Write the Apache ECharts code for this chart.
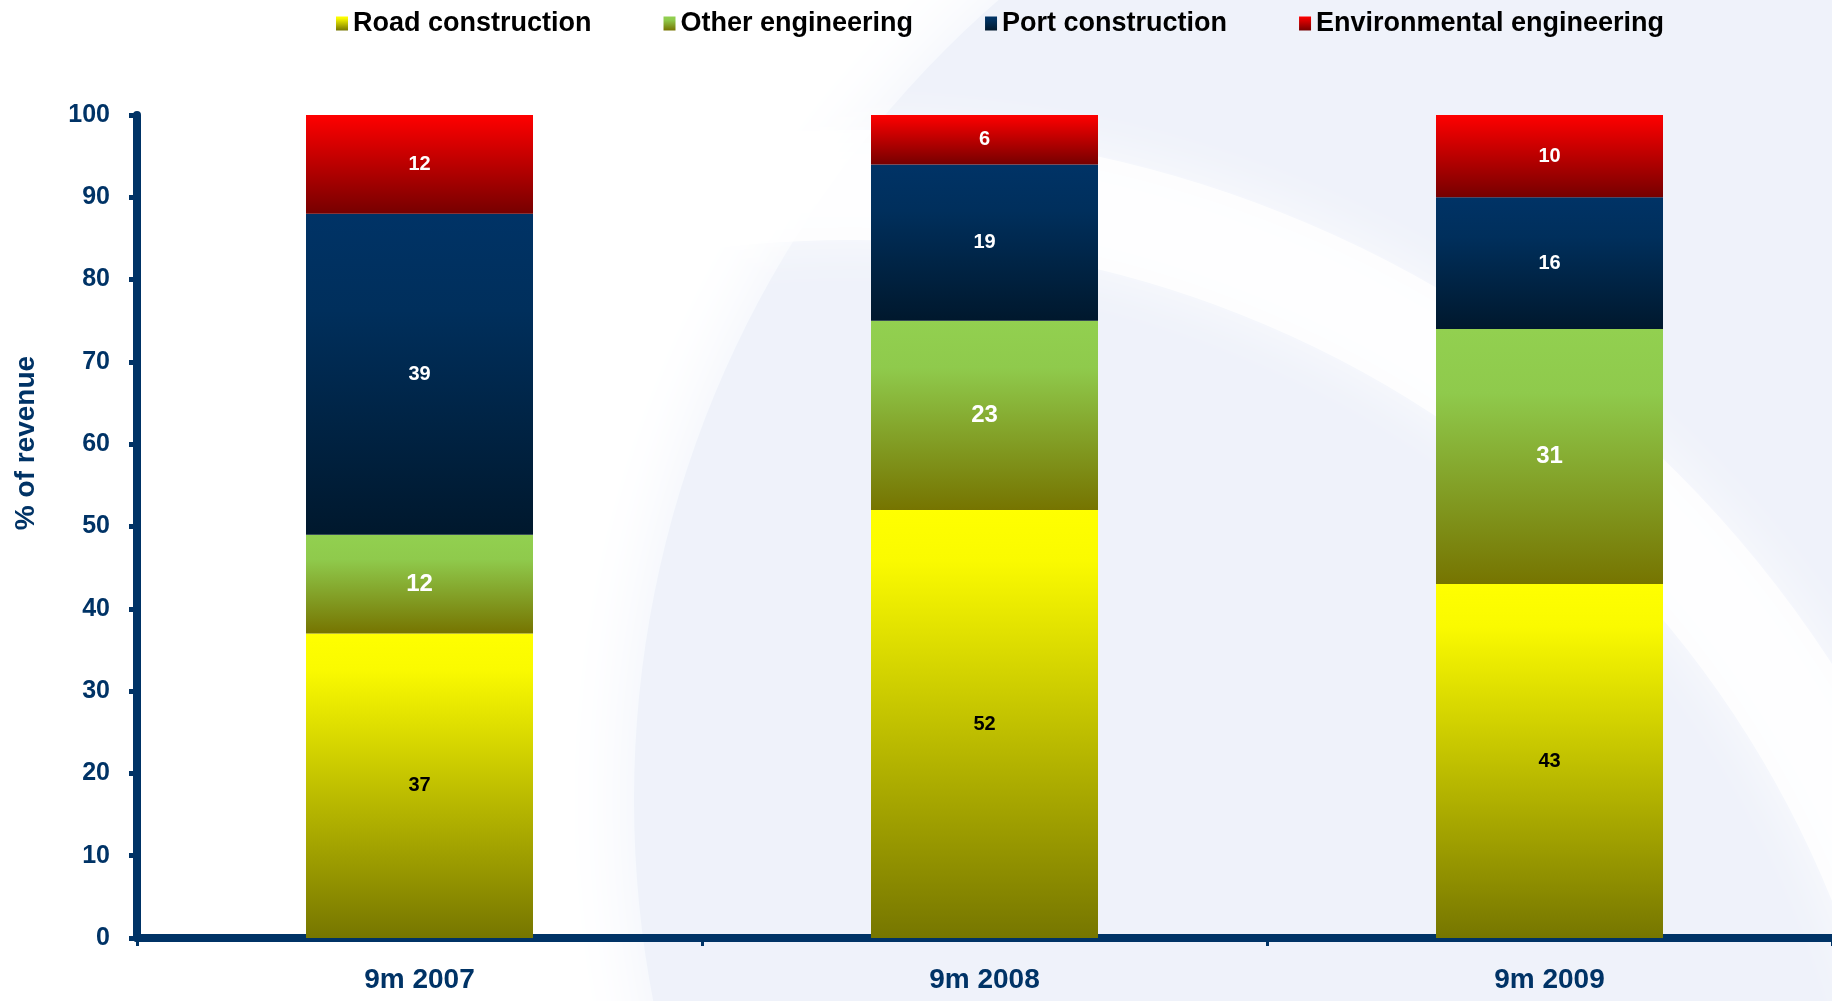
<!DOCTYPE html>
<html>
<head>
<meta charset="utf-8">
<title>Revenue structure by segment</title>
<script src="https://cdn.jsdelivr.net/npm/echarts@6/dist/echarts.min.js"></script>
<style>
  html, body { margin: 0; padding: 0; background: #ffffff; }
  #chart { width: 1832px; height: 1001px; }
</style>
</head>
<body>
<div id="chart"></div>
<script>
// Share of revenue by business segment, %
const categories = ['9m 2007', '9m 2008', '9m 2009'];
const roadConstruction = [37, 52, 43];
const otherEngineering = [12, 23, 31];
const portConstruction = [39, 19, 16];
const environmentalEngineering = [12, 6, 10];

// Value axis: 0..100 step 10
const yMin = 0;
const yMax = 100;
const yStep = 10;

const FONT = "'Liberation Sans', Arial, sans-serif";
const NAVY = '#003366';

function vGrad(stops) {
  return new echarts.graphic.LinearGradient(0, 0, 0, 1,
    stops.map(([offset, color]) => ({ offset, color })));
}

const roadFill = vGrad([[0, '#ffff00'], [0.12, '#fafa00'], [1, '#767600']]);
const otherFill = vGrad([[0, '#92d050'], [0.25, '#8fca4c'], [1, '#767400']]);
const portFill = vGrad([[0, '#003366'], [0.3, '#002f5c'], [1, '#00182d']]);
const envFill = vGrad([[0, '#ff0000'], [1, '#760000']]);

function segment(name, data, fill, labelColor, labelSize) {
  return {
    name,
    type: 'bar',
    stack: 'total',
    barWidth: 227,
    data,
    itemStyle: { color: fill },
    label: {
      show: true,
      position: 'inside',
      color: labelColor,
      fontFamily: FONT,
      fontWeight: 'bold',
      fontSize: labelSize
    },
    emphasis: { disabled: true }
  };
}

const chart = echarts.init(document.getElementById('chart'), null, { renderer: 'canvas' });

chart.setOption({
  animation: false,
  backgroundColor: '#ffffff',
  graphic: [
    // pale globe shape behind the plot
    {
      type: 'circle',
      z: -20,
      silent: true,
      shape: { cx: 1694, cy: 800, r: 1060 },
      style: { fill: '#eff2fa', shadowBlur: 80, shadowColor: '#eff2fa' }
    },
    // soft light band across the globe
    {
      type: 'circle',
      z: -19,
      silent: true,
      shape: { cx: 850, cy: 1300, r: 1115 },
      style: {
        fill: 'none',
        stroke: 'rgba(255,255,255,0.75)',
        lineWidth: 110,
        shadowBlur: 60,
        shadowColor: '#ffffff'
      }
    },
    {
      type: 'text',
      z: 10,
      silent: true,
      x: 26,
      y: 443,
      rotation: Math.PI / 2,
      style: {
        text: '% of revenue',
        x: 0,
        y: 0,
        align: 'center',
        verticalAlign: 'middle',
        fill: NAVY,
        font: 'bold 28px ' + FONT
      }
    }
  ],
  legend: {
    left: 331,
    top: 5,
    icon: 'rect',
    itemWidth: 12,
    itemHeight: 14,
    itemGap: 72,
    selectedMode: false,
    textStyle: {
      color: '#000000',
      fontFamily: FONT,
      fontWeight: 'bold',
      fontSize: 27
    },
    data: ['Road construction', 'Other engineering', 'Port construction', 'Environmental engineering']
  },
  grid: { left: 137, right: 0, top: 115, bottom: 63, containLabel: false },
  xAxis: {
    type: 'category',
    data: categories,
    boundaryGap: true,
    axisLine: { show: true, lineStyle: { color: NAVY, width: 8 } },
    axisTick: { show: true, length: 8, lineStyle: { color: NAVY, width: 3 } },
    axisLabel: {
      color: NAVY,
      fontFamily: FONT,
      fontWeight: 'bold',
      fontSize: 28,
      margin: 28
    },
    splitLine: { show: false }
  },
  yAxis: {
    type: 'value',
    min: yMin,
    max: yMax,
    interval: yStep,
    axisLine: { show: true, lineStyle: { color: NAVY, width: 8 } },
    axisTick: { show: true, length: 8, lineStyle: { color: NAVY, width: 5 } },
    axisLabel: {
      color: NAVY,
      fontFamily: FONT,
      fontWeight: 'bold',
      fontSize: 25,
      margin: 27
    },
    splitLine: { show: false }
  },
  series: [
    segment('Road construction', roadConstruction, roadFill, '#000000', 20),
    segment('Other engineering', otherEngineering, otherFill, '#ffffff', 24),
    segment('Port construction', portConstruction, portFill, '#ffffff', 20),
    segment('Environmental engineering', environmentalEngineering, envFill, '#ffffff', 20)
  ]
});
</script>
</body>
</html>
